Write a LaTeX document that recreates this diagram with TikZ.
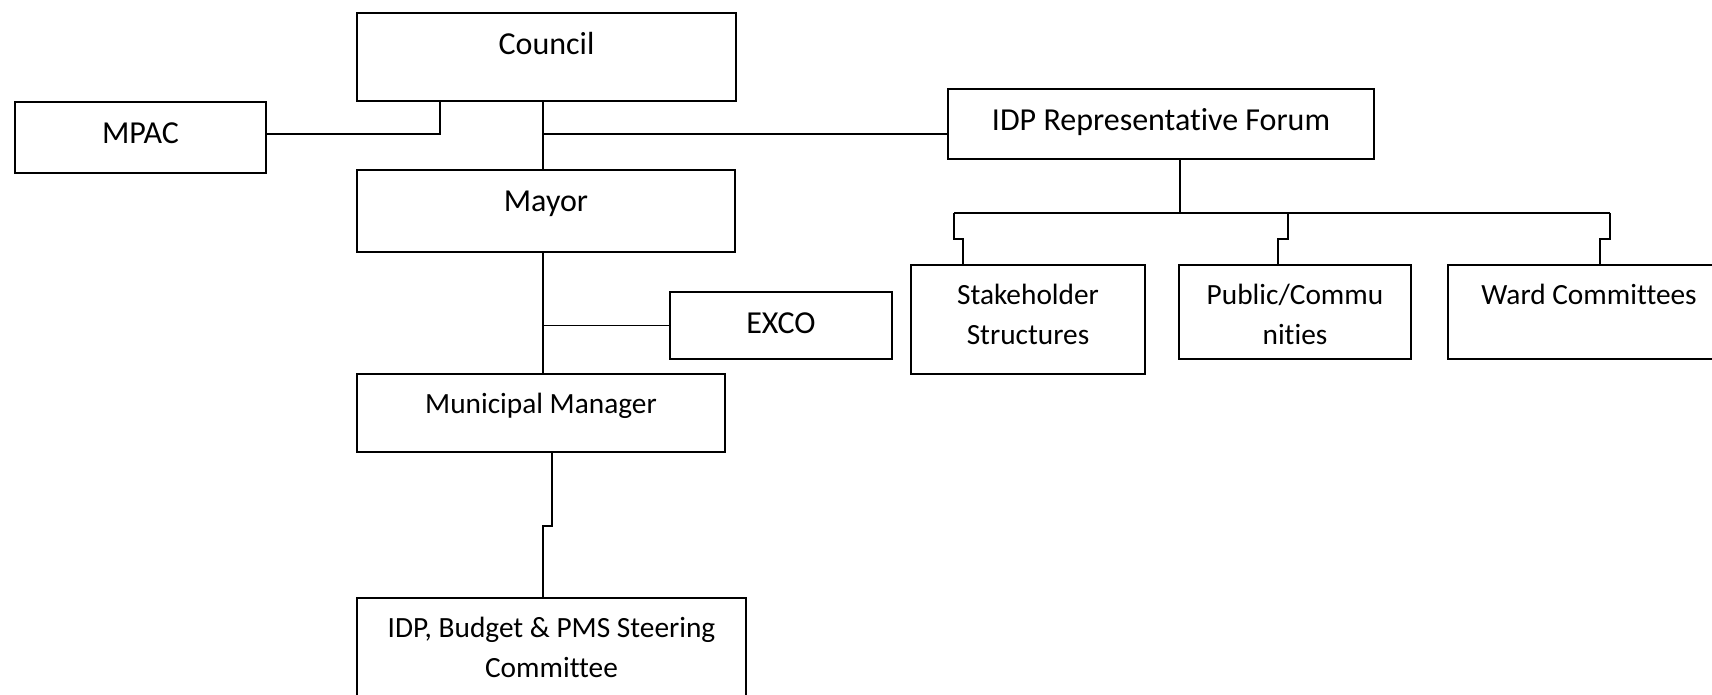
\documentclass[tikz,border=0pt]{standalone}
\usepackage{fontspec}
\setmainfont{Carlito}[Ligatures={NoCommon}]
\tikzstyle{unit}=[draw, line width=1pt, rectangle, inner sep=0pt]
\tikzstyle{caption}=[anchor=north, inner sep=0pt, align=center, font=\fontsize{16}{19.5}\selectfont]
\tikzstyle{small caption}=[caption, font=\fontsize{14.67}{20}\selectfont]
\tikzstyle{link}=[line width=.8pt]

\begin{document}
\begin{tikzpicture}[x=.5pt,y=-.5pt]
    \useasboundingbox (0,0) rectangle (1712,695);

    % Boxes
    \draw (546.5,57) node[unit, minimum width=189.5pt, minimum height=44pt] (council) {};
    \draw (140.5,137.5) node[unit, minimum width=125.5pt, minimum height=35.5pt] (mpac) {};
    \draw (1161,124) node[unit, minimum width=213pt, minimum height=35pt] (forum) {};
    \draw (546,211) node[unit, minimum width=189pt, minimum height=41pt] (mayor) {};
    \draw (781,325.5) node[unit, minimum width=111pt, minimum height=33.5pt] (exco) {};
    \draw (541,413) node[unit, minimum width=184pt, minimum height=39pt] (mm) {};
    \draw (551.5,650) node[unit, minimum width=194.5pt, minimum height=52pt] (steering) {};
    \draw (1028,319.5) node[unit, minimum width=117pt, minimum height=54.5pt] (stake) {};
    \draw (1295,312) node[unit, minimum width=116pt, minimum height=47pt] (public) {};
    \draw (1589,312) node[unit, minimum width=141pt, minimum height=47pt] (ward) {};

    % Texts
    \draw ([yshift=-7.5pt]council.north) node[caption] (council text) {\strut Council};
    \draw ([yshift=-7.5pt]mpac.north) node[caption] (mpac text) {\strut MPAC};
    \draw ([yshift=-7.5pt]forum.north) node[caption] (forum text) {\strut IDP Representative Forum};
    \draw ([yshift=-7.5pt]mayor.north) node[caption] (mayor text) {\strut Mayor};
    \draw ([yshift=-7.5pt]exco.north) node[caption] (exco text) {\strut EXCO};
    \draw ([yshift=-6pt]mm.north) node[small caption] (mm text) {\strut Municipal Manager};
    \draw ([yshift=-6pt]steering.north) node[small caption] (steering text) {\strut IDP, Budget \& PMS Steering\\Committee};
    \draw ([yshift=-6pt]stake.north) node[small caption] (stake text) {\strut Stakeholder\\Structures};
    \draw ([yshift=-6pt]public.north) node[small caption] (public text) {\strut Public/Commu\\nities};
    \draw ([yshift=-6pt]ward.north) node[small caption] (ward text) {\strut Ward Committees};

    % Links
    \coordinate (spine) at (543,134);
    \coordinate (bus) at (1180,213);
    \draw[link] (council.south -| spine) -- (mayor.north -| spine);
    \draw[link] (spine) -- (spine -| forum.west);
    \draw[link] (440,0 |- council.south) |- (spine -| mpac.east);
    \draw[link] (mayor.south -| spine) -- (mm.north -| spine);
    \draw[link] (spine |- exco.west) -- (exco.west);
    \draw[link] ([xshift=5.5pt]mm.south) -- ++(0,73) -| ([xshift=-4.25pt]steering.north);
    \draw[link] (bus |- forum.south) -- (bus);
    \draw[link] (954,213) -- (1610,213);
    \foreach \n/\a/\b in {stake/954/963, public/1288/1278, ward/1610/1600}
        \draw[link] (\a,213) -- (\a,239) -| (\b,0 |- \n.north);
\end{tikzpicture}
\end{document}
